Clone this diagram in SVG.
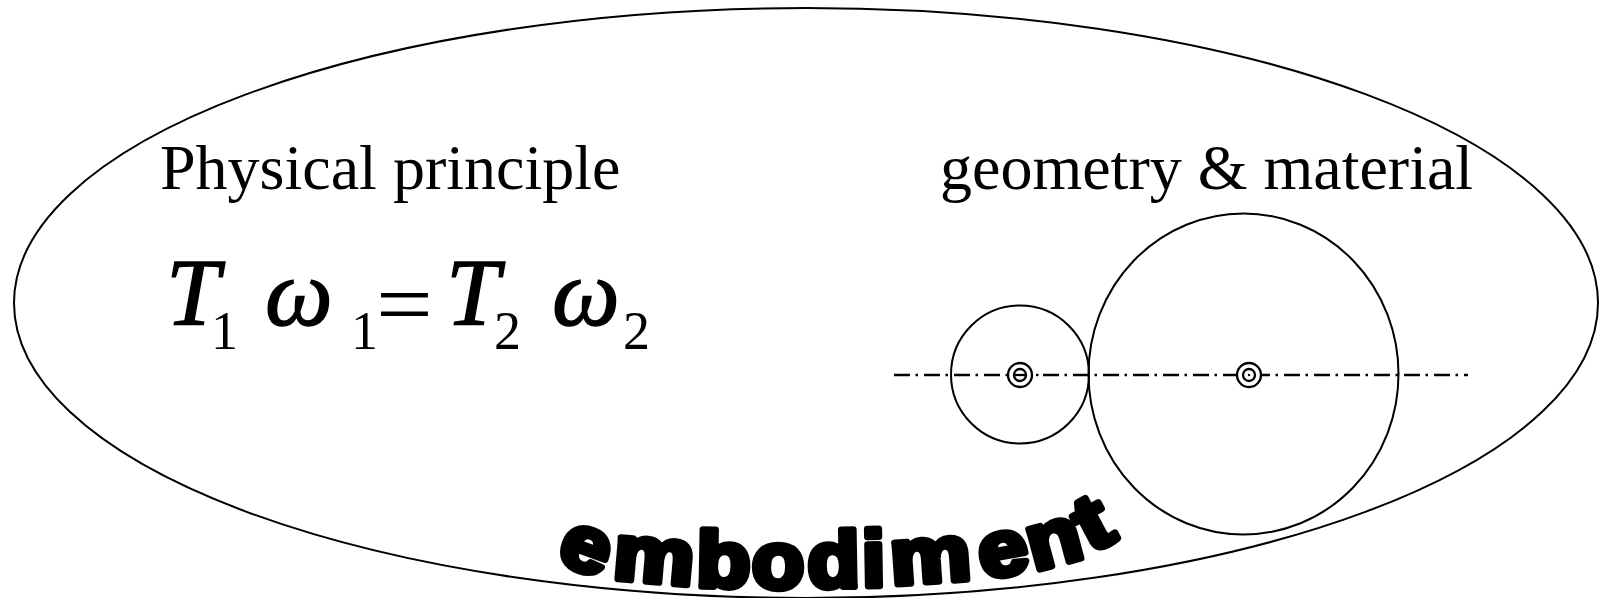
<svg xmlns="http://www.w3.org/2000/svg" width="1602" height="598" viewBox="0 0 1602 598">
<style>
.o{fill:none;stroke:#000;stroke-width:2}
.g{fill:none;stroke:#000;stroke-width:2}
.h{fill:none;stroke:#000;stroke-width:2.300}
.d{fill:none;stroke:#000;stroke-width:2.300;stroke-dasharray:16 5.500 2.500 6}
.s{font-family:"Liberation Serif","Times New Roman",serif;fill:#000}
.l{font-size:64px}
.i{font-size:96px;font-style:italic;stroke:#000;stroke-width:1.400}
.n{font-size:54px}
.e{font-family:"Liberation Sans",Arial,sans-serif;font-weight:700;font-size:79px;fill:#000;stroke:#000;stroke-width:6.500;stroke-linejoin:round;text-anchor:middle}
</style>
<rect width="1602" height="598" fill="#fff"/>
<g id="outline"><ellipse class="o" cx="806" cy="303" rx="792" ry="295"/></g>
<g id="principle-label"><text class="s l" x="160" y="189">Physical principle</text></g>
<g id="geometry-label"><text class="s l" x="940" y="189">geometry &amp; material</text></g>
<g id="equation">
<text class="s i" x="166" y="325">T</text><text class="s n" x="211" y="349">1</text>
<text class="s i" x="265" y="325">ω</text><text class="s n" x="351" y="349">1</text>
<text class="s" style="font-size:90px" transform="translate(376 335) scale(1.12 1)">=</text>
<text class="s i" x="446" y="325">T</text><text class="s n" x="494" y="349">2</text>
<text class="s i" x="552" y="325">ω</text><text class="s n" x="623" y="349">2</text>
</g>
<g id="connectors">
<path class="d" d="M894 375H1008"/>
<path class="h" d="M1036 375H1038.500"/>
<path class="d" d="M1043 375H1237"/>
<path class="d" style="stroke-dashoffset:7" d="M1261 375H1468"/>
</g>
<g id="small-gear"><circle class="g" cx="1020" cy="374.500" r="69"/><circle class="h" cx="1020" cy="375" r="12"/><circle class="h" cx="1020" cy="375" r="6"/><path class="h" d="M1014 375H1026"/></g>
<g id="large-gear"><ellipse class="g" cx="1243.500" cy="374" rx="155" ry="160.500"/><circle class="h" cx="1249" cy="375" r="12"/><circle class="h" cx="1249" cy="375" r="6"/><circle cx="1249" cy="375" r="1.200"/></g>
<g id="embodiment">
<text class="e" transform="translate(578 570) rotate(20) scale(1.12 1)">e</text>
<text class="e" transform="translate(652 582) rotate(5) scale(1.15 1)">m</text>
<text class="e" transform="translate(723 587) rotate(1) scale(1.12 1)">b</text>
<text class="e" transform="translate(778 588) scale(1.08 1)">o</text>
<text class="e" transform="translate(834 587) rotate(-1) scale(1.08 1)">d</text>
<text class="e" transform="translate(874 586) rotate(-1) scale(1.05 1)">i</text>
<text class="e" transform="translate(932 582) rotate(-4) scale(1.15 1)">m</text>
<text class="e" transform="translate(1007 575) rotate(-10) scale(1.12 1)">e</text>
<text class="e" transform="translate(1060 564) rotate(-15) scale(1.12 1)">n</text>
<text class="e" transform="translate(1105 546) rotate(-28) scale(1.2 1)">t</text>
</g>
</svg>
